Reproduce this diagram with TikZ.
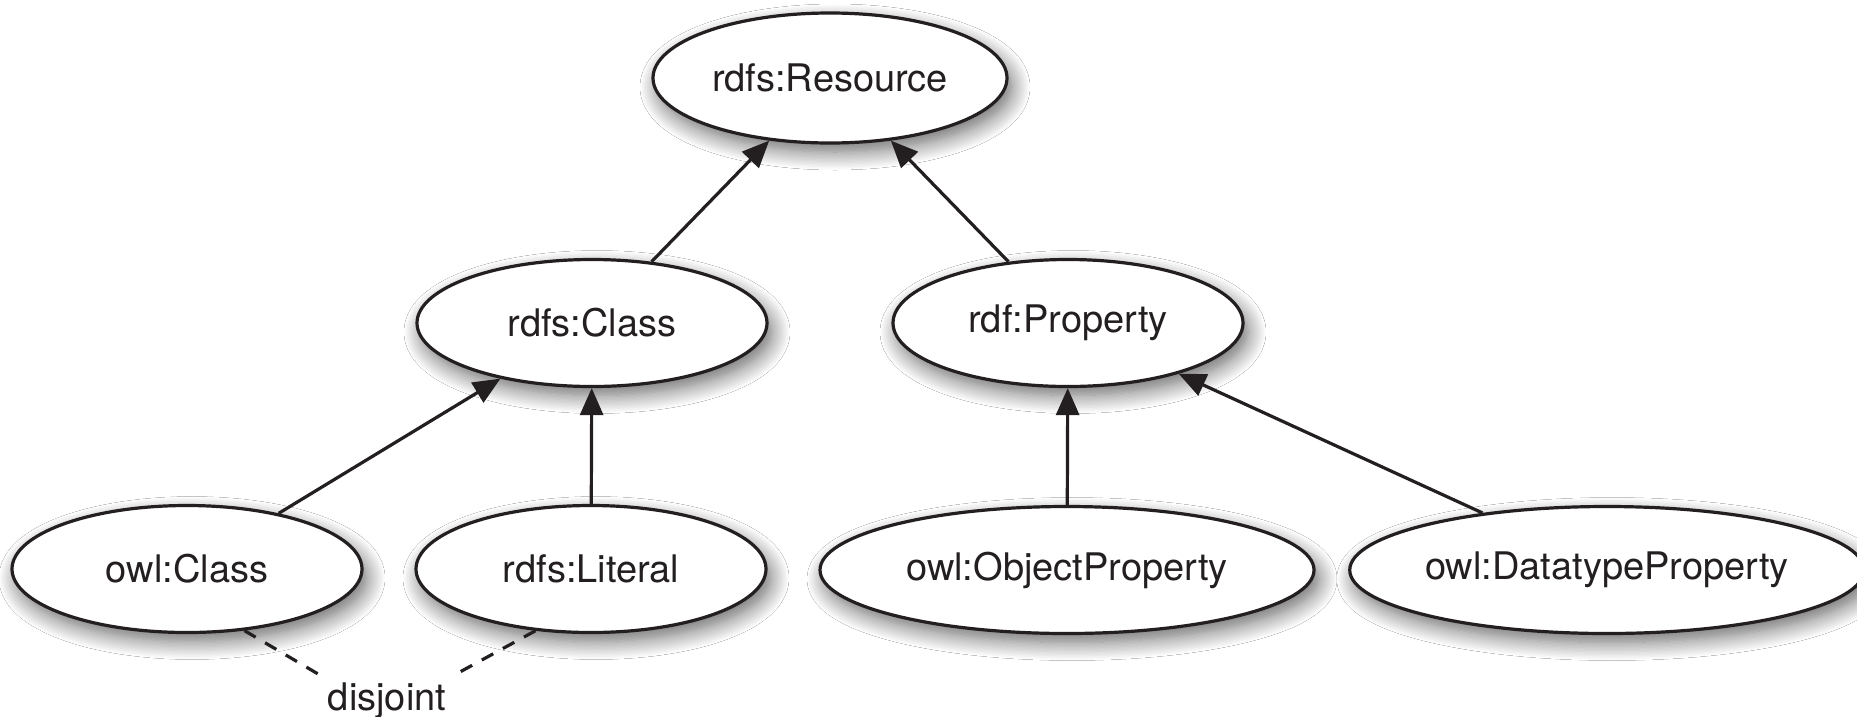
\documentclass[tikz,border=0pt]{standalone}
\usepackage{fontspec}
\setmainfont{TeX Gyre Heros}
\usetikzlibrary{shapes.geometric,arrows.meta,shadows.blur}
\definecolor{ink}{HTML}{231F20}
\tikzset{
  cls/.style={ellipse, draw=ink, line width=3.2pt, fill=white, inner sep=0pt,
    minimum width=350pt, minimum height=127pt, text=ink,
    font=\fontsize{38}{44}\selectfont,
    blur shadow={shadow xshift=5pt, shadow yshift=-9pt, shadow blur radius=18pt, shadow blur steps=14, shadow opacity=60}},
  widecls/.style={cls, minimum width=494pt},
  isa/.style={draw=ink, line width=3.2pt, -{Triangle[length=27pt,width=23pt]}},
  disjointline/.style={draw=ink, line width=3.2pt, dash pattern=on 13pt off 11pt},
  lbl/.style={text=ink, font=\fontsize{38}{44}\selectfont, inner sep=6pt}
}
\begin{document}
\begin{tikzpicture}[x=1pt,y=-1pt]
\useasboundingbox[fill=white] (0,0) rectangle (1857,716);
\node[cls, minimum width=354pt, minimum height=130pt] (res) at (830,78) {rdfs:Resource};
\node[cls] (rcls) at (592,323) {rdfs:Class};
\node[cls] (prop) at (1068,323) {rdf:Property};
\node[cls] (ocls) at (187,569) {owl:Class};
\node[cls] (lit) at (591,569) {rdfs:Literal};
\node[widecls] (oprop) at (1067,570) {owl:ObjectProperty};
\node[widecls, minimum width=492pt] (dprop) at (1607,570) {owl:DatatypeProperty};
\node[lbl, anchor=base] (disj) at (387,710) {disjoint};

\draw[isa] (rcls) -- (res);
\draw[isa] (prop) -- (res);
\draw[isa] (ocls) -- (rcls);
\draw[isa] (lit) -- (rcls);
\draw[isa] (oprop) -- (prop);
\draw[isa] (dprop) -- (prop);

\draw[disjointline] (ocls.-47) -- (disj.north west);
\draw[disjointline] (lit.-132) -- (disj.north east);
\end{tikzpicture}
\end{document}
